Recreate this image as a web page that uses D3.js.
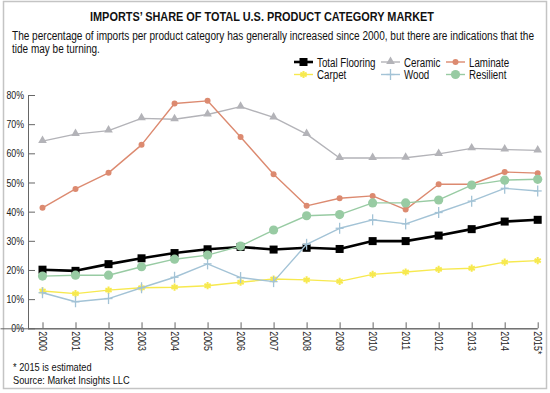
<!DOCTYPE html>
<html>
<head>
<meta charset="utf-8">
<script src="https://cdn.jsdelivr.net/npm/d3@7"></script>
<style>
  body { margin: 0; background: #fff; }
  svg { display: block; }
  .narrow { font-family: "Liberation Sans Narrow", "Arial Narrow", "Liberation Sans", sans-serif; }
</style>
</head>
<body>
<svg id="chart" width="550" height="393"></svg>
<script>
// data
var years = ["2000","2001","2002","2003","2004","2005","2006","2007","2008","2009","2010","2011","2012","2013","2014","2015*"];
var totalFlooring = [20.1, 19.7, 22.0, 24.0, 25.8, 27.1, 27.9, 27.0, 27.6, 27.2, 29.9, 29.9, 31.8, 34.0, 36.6, 37.2];
var ceramic   = [64.2, 66.6, 67.8, 72.0, 71.7, 73.3, 76.0, 72.3, 66.6, 58.4, 58.4, 58.5, 59.8, 61.7, 61.3, 61.0];
var laminate  = [41.3, 47.8, 53.3, 62.9, 77.1, 78.0, 65.6, 52.8, 42.0, 44.6, 45.4, 40.7, 49.4, 49.4, 53.6, 53.2];
var carpet    = [12.8, 11.9, 13.1, 13.9, 14.1, 14.6, 15.8, 16.9, 16.6, 16.1, 18.5, 19.3, 20.2, 20.6, 22.7, 23.2];
var wood      = [12.2, 9.1, 10.2, 13.9, 17.5, 22.1, 17.4, 16.0, 28.8, 34.3, 37.2, 35.8, 39.7, 43.6, 48.0, 47.1];
var resilient = [17.9, 18.2, 18.2, 21.1, 23.7, 25.1, 28.2, 33.7, 38.6, 39.0, 43.0, 43.0, 44.0, 49.1, 50.8, 51.1];
var yTicks = [0, 10, 20, 30, 40, 50, 60, 70, 80];

var title = "IMPORTS\u2019 SHARE OF TOTAL U.S. PRODUCT CATEGORY MARKET";
var subtitle1 = "The percentage of imports per product category has generally increased since 2000, but there are indications that the";
var subtitle2 = "tide may be turning.";
var notes = ["* 2015 is estimated", "Source: Market Insights LLC"];

var series = [
  {name: "Total Flooring", values: totalFlooring, color: "#000000", width: 2.6, marker: "square"},
  {name: "Ceramic",  values: ceramic,   color: "#b3b3b8", width: 1.4, marker: "triangle"},
  {name: "Laminate", values: laminate,  color: "#dc8a70", width: 1.4, marker: "dot"},
  {name: "Carpet",   values: carpet,    color: "#f7e94f", width: 1.4, marker: "star"},
  {name: "Wood",     values: wood,      color: "#a3c3d6", width: 1.4, marker: "plus"},
  {name: "Resilient",values: resilient, color: "#98cba3", width: 1.4, marker: "circle"}
];

var svg = d3.select("#chart");

// no narrow font installed, so squeeze the glyphs instead
function condense(sel, k) {
  sel.each(function() {
    var len = this.getComputedTextLength();
    d3.select(this).attr("textLength", len * k).attr("lengthAdjust", "spacingAndGlyphs");
  });
}

// frame
svg.append("rect")
  .attr("x", 3.5).attr("y", 1.5).attr("width", 543).attr("height", 387)
  .attr("fill", "none").attr("stroke", "#c4c4c4").attr("stroke-width", 1.5);

// title + subtitle
svg.append("text")
  .attr("x", 262).attr("y", 21)
  .attr("text-anchor", "middle")
  .attr("font-family", "'Liberation Sans', Arial, sans-serif")
  .attr("font-weight", "bold").attr("font-size", 12.5)
  .attr("textLength", 344).attr("lengthAdjust", "spacingAndGlyphs")
  .attr("fill", "#111")
  .text(title);

svg.append("text").attr("class", "narrow")
  .attr("x", 12).attr("y", 40).attr("font-size", 12.5).attr("fill", "#111")
  .text(subtitle1)
  .call(function(sel) {
    sel.attr("textLength", 522).attr("lengthAdjust", "spacingAndGlyphs");
  });
svg.append("text").attr("class", "narrow")
  .attr("x", 12).attr("y", 53).attr("font-size", 12.5).attr("fill", "#111")
  .text(subtitle2)
  .call(condense, 0.8);

// scales
var x = d3.scalePoint().domain(years).range([42.5, 537.7]);
var y = d3.scaleLinear().domain([0, 80]).range([328.3, 95]);

// axes
var yAxis = svg.append("g").attr("class", "narrow")
  .attr("transform", "translate(28,0)")
  .call(d3.axisLeft(y).tickValues(yTicks).tickFormat(function(d) { return d + "%"; })
    .tickSizeInner(-7).tickSizeOuter(0).tickPadding(4));
yAxis.select(".domain").attr("stroke", "#666");
yAxis.selectAll(".tick line").attr("stroke", "#666");
yAxis.selectAll(".tick text").attr("font-size", 11).attr("fill", "#222")
  .attr("font-family", "'Liberation Sans Narrow', 'Arial Narrow', 'Liberation Sans', sans-serif")
  .call(condense, 0.8);

var xAxis = svg.append("g").attr("class", "narrow")
  .attr("transform", "translate(0,328.3)")
  .call(d3.axisBottom(x).tickSizeInner(-6).tickSizeOuter(0).tickPadding(3));
xAxis.select(".domain").attr("stroke", "#666").attr("d", "M28,0.5H" + x("2015*") + ",0.5");
xAxis.selectAll(".tick line").attr("stroke", "#666");
xAxis.selectAll(".tick text")
  .attr("font-size", 11).attr("fill", "#222")
  .attr("font-family", "'Liberation Sans Narrow', 'Arial Narrow', 'Liberation Sans', sans-serif")
  .attr("text-anchor", "start")
  .attr("dy", "0.35em")
  .attr("transform", "translate(0,3) rotate(90)")
  .attr("x", 0).attr("y", 0)
  .call(condense, 0.8);

// marker drawing
function drawMarker(g, type, color, px, py) {
  if (type === "square") {
    g.append("rect").attr("x", px - 4).attr("y", py - 4).attr("width", 8).attr("height", 8).attr("fill", color);
  } else if (type === "triangle") {
    g.append("path").attr("transform", "translate(" + px + "," + (py - 0.5) + ")")
      .attr("d", d3.symbol(d3.symbolTriangle, 32)()).attr("fill", color);
  } else if (type === "dot") {
    g.append("circle").attr("cx", px).attr("cy", py).attr("r", 3).attr("fill", color);
  } else if (type === "circle") {
    g.append("circle").attr("cx", px).attr("cy", py).attr("r", 4.6).attr("fill", color);
  } else if (type === "star") {
    g.append("path").attr("transform", "translate(" + px + "," + py + ")")
      .attr("d", d3.symbol(d3.symbolAsterisk, 36)()).attr("fill", "none")
      .attr("stroke", color).attr("stroke-width", 2);
  } else if (type === "plus") {
    g.append("line").attr("x1", px).attr("x2", px).attr("y1", py - 5.5).attr("y2", py + 5.5)
      .attr("stroke", color).attr("stroke-width", 1.3);
    g.append("line").attr("x1", px - 4).attr("x2", px + 4).attr("y1", py).attr("y2", py)
      .attr("stroke", color).attr("stroke-width", 1.3);
  }
}

var line = d3.line()
  .x(function(d, i) { return x(years[i]); })
  .y(function(d) { return y(d); });

series.forEach(function(s) {
  var g = svg.append("g");
  g.append("path").datum(s.values)
    .attr("d", line).attr("fill", "none")
    .attr("stroke", s.color).attr("stroke-width", s.width)
    .attr("stroke-linejoin", "round");
  s.values.forEach(function(v, i) {
    drawMarker(g, s.marker, s.color, x(years[i]), y(v));
  });
});

// legend
var legendCols = [294, 381, 446];
var legendRows = [62, 74.5];
series.forEach(function(s, i) {
  var col = i % 3, row = Math.floor(i / 3);
  var lx = legendCols[col], ly = legendRows[row];
  var g = svg.append("g");
  g.append("line").attr("x1", lx).attr("x2", lx + 19).attr("y1", ly).attr("y2", ly)
    .attr("stroke", s.color).attr("stroke-width", s.width);
  drawMarker(g, s.marker, s.color, lx + 9.5, ly);
  g.append("text").attr("class", "narrow")
    .attr("x", lx + 23).attr("y", ly + 4.5).attr("font-size", 12.5).attr("fill", "#111")
    .text(s.name)
    .call(condense, 0.78);
});

// notes
notes.forEach(function(t, i) {
  svg.append("text").attr("class", "narrow")
    .attr("x", 13).attr("y", 371 + i * 12.5).attr("font-size", 11).attr("fill", "#111")
    .text(t)
    .call(condense, 0.84);
});
</script>
</body>
</html>
